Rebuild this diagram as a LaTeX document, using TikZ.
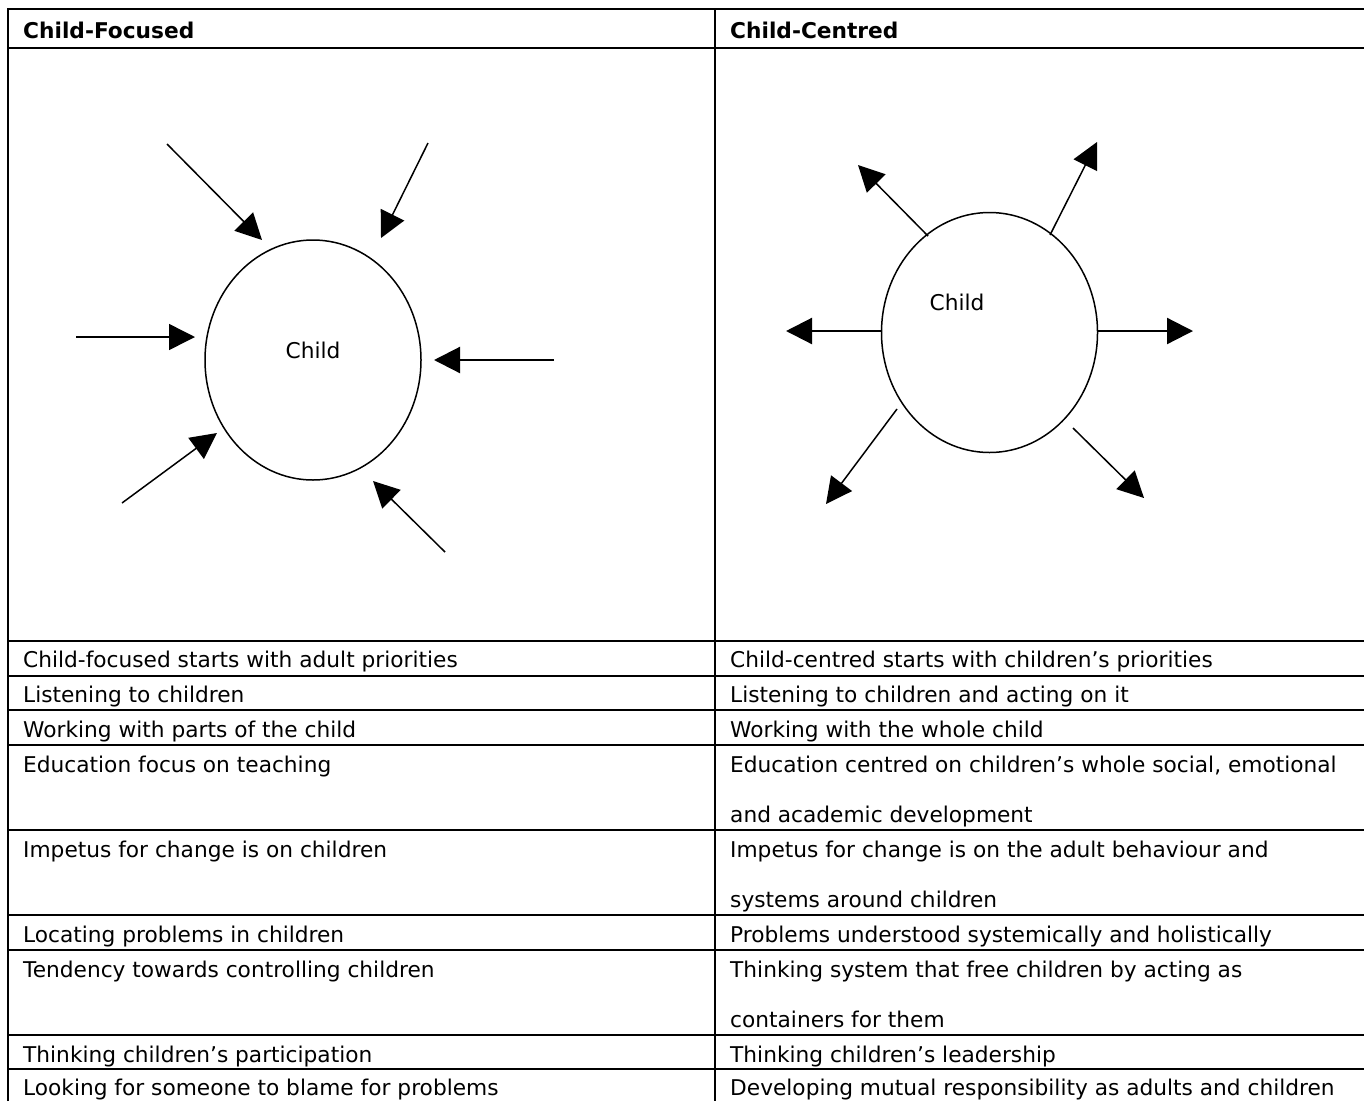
\documentclass[tikz,border=0pt]{standalone}
\usepackage{fontspec}
\setmainfont{DejaVu Sans}
\usetikzlibrary{arrows.meta,shapes.geometric}
\newcommand{\twolines}[2]{\vtop{\hbox{#1}\hbox{#2}}}
\begin{document}
\begin{tikzpicture}[x=1pt,y=-1pt,
  grid/.style={line width=2pt},
  cell/.style={anchor=base west, inner sep=0pt, font=\fontsize{21.7}{50}\selectfont},
  head/.style={anchor=base west, inner sep=0pt, font=\fontsize{21.7}{26}\selectfont\bfseries},
  blob/.style={draw, ellipse, line width=1.5pt, minimum width=216pt, minimum height=240pt, inner sep=0pt},
  lbl/.style={inner sep=0pt, font=\fontsize{21.7}{26}\selectfont},
  arr/.style={-{Triangle[length=26pt,width=26pt]}, line width=1.5pt},
  harr/.style={arr, line width=2.2pt}]
\useasboundingbox (0,0) rectangle (1364,1101);
\fill[white] (0,0) rectangle (1364,1101);
% table grid
\draw[grid] (8,1101) -- (8,9) -- (1364,9);
\draw[grid] (715,9) -- (715,1101);
\foreach \y in {48,641,676,710,745,830,915,950,1035,1069} \draw[grid] (8,\y) -- (1364,\y);
% headers
\node[head] (h1) at (23,38) {Child-Focused};
\node[head] (h2) at (730,38) {Child-Centred};
% left column
\node[cell] (l1) at (23,667) {Child-focused starts with adult priorities};
\node[cell] (l2) at (23,702) {Listening to children};
\node[cell] (l3) at (23,737) {Working with parts of the child};
\node[cell] (l4) at (23,772) {Education focus on teaching};
\node[cell] (l5) at (23,857) {Impetus for change is on children};
\node[cell] (l6) at (23,942) {Locating problems in children};
\node[cell] (l7) at (23,977) {Tendency towards controlling children};
\node[cell] (l8) at (23,1062) {Thinking children’s participation};
\node[cell] (l9) at (23,1095) {Looking for someone to blame for problems};
% right column
\node[cell] (r1) at (730,667) {Child-centred starts with children’s priorities};
\node[cell] (r2) at (730,702) {Listening to children and acting on it};
\node[cell] (r3) at (730,737) {Working with the whole child};
\node[cell] (r4) at (730,772) {\twolines{Education centred on children’s whole social, emotional}{and academic development}};
\node[cell] (r5) at (730,857) {\twolines{Impetus for change is on the adult behaviour and}{systems around children}};
\node[cell] (r6) at (730,942) {Problems understood systemically and holistically};
\node[cell] (r7) at (730,977) {\twolines{Thinking system that free children by acting as}{containers for them}};
\node[cell] (r8) at (730,1062) {Thinking children’s leadership};
\node[cell] (r9) at (730,1095) {Developing mutual responsibility as adults and children};
% left diagram
\node[blob] (c1) at (313,360) {};
\node[lbl] (t1) at (313,350) {Child};
\coordinate (a1s) at (167,144); \coordinate (a1e) at (262,240);
\coordinate (a2s) at (428,143); \coordinate (a2e) at (381,238);
\coordinate (a3s) at (76,337);  \coordinate (a3e) at (195,337);
\coordinate (a4s) at (554,360); \coordinate (a4e) at (434,360);
\coordinate (a5s) at (122,503); \coordinate (a5e) at (217,433);
\coordinate (a6s) at (445,552); \coordinate (a6e) at (373,481);
\draw[arr] (a1s) -- (a1e);
\draw[arr] (a2s) -- (a2e);
\draw[arr] (a3s) -- (a3e);
\draw[harr] (a4s) -- (a4e);
\draw[arr] (a5s) -- (a5e);
\draw[arr] (a6s) -- (a6e);
% right diagram
\node[blob] (c2) at (989.5,332.5) {};
\node[lbl] (t2) at (957,302) {Child};
\coordinate (b1s) at (928,236);  \coordinate (b1e) at (858,165);
\coordinate (b2s) at (1050,235); \coordinate (b2e) at (1097,142);
\coordinate (b3s) at (881,331);  \coordinate (b3e) at (786,331);
\coordinate (b4s) at (1098,331); \coordinate (b4e) at (1193,331);
\coordinate (b5s) at (897,409);  \coordinate (b5e) at (826,504);
\coordinate (b6s) at (1073,428); \coordinate (b6e) at (1144,498);
\draw[arr] (b1s) -- (b1e);
\draw[arr] (b2s) -- (b2e);
\draw[harr] (b3s) -- (b3e);
\draw[harr] (b4s) -- (b4e);
\draw[arr] (b5s) -- (b5e);
\draw[arr] (b6s) -- (b6e);
\end{tikzpicture}
\end{document}
